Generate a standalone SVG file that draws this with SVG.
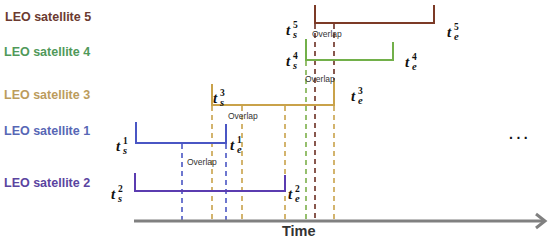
<svg xmlns="http://www.w3.org/2000/svg" width="550" height="242" viewBox="0 0 550 242">
<style>
.lbl{font-family:"Liberation Sans",Arial,sans-serif;font-size:12.5px;font-weight:bold}
.t{font-family:"Liberation Serif","Times New Roman",serif;font-weight:bold;font-style:italic;font-size:15px;fill:#111}
.sup{font-family:"Liberation Serif","Times New Roman",serif;font-weight:bold;font-size:9.5px;fill:#111}
.sub{font-family:"Liberation Serif","Times New Roman",serif;font-weight:bold;font-style:italic;font-size:10.5px;fill:#111}
.ov{font-family:"Liberation Sans",Arial,sans-serif;font-size:8.5px;fill:#333}
.bar{fill:none;stroke-width:2}
.dash{fill:none;stroke-width:1.6;stroke-dasharray:5 4}
</style>
<rect width="550" height="242" fill="#fff"/>
<g id="labels">
<text class="lbl" x="5" y="21" fill="#6b3a30">LEO  satellite 5</text>
<text class="lbl" x="4" y="55.5" fill="#50995a">LEO  satellite 4</text>
<text class="lbl" x="4" y="99" fill="#bc9c5c">LEO  satellite 3</text>
<text class="lbl" x="4" y="135" fill="#5767b5">LEO  satellite 1</text>
<text class="lbl" x="4" y="187" fill="#5a44a0">LEO  satellite 2</text>
</g>
<g id="connectors">
<path class="dash" stroke="#4a56c4" d="M182 144V221M226 144V221"/>
<path class="dash" stroke="#c9a24a" d="M212 106V221M242 106V221M285 106V221M334 106V221"/>
<path class="dash" stroke="#7cb04a" d="M306 61V221"/>
<path class="dash" stroke="#6b2f22" d="M315 24V221M334 24V104"/>
</g>
<g id="sat5">
<path class="bar" stroke="#7c3a26" d="M315 5V23H434V5"/>
</g>
<g id="sat4">
<path class="bar" stroke="#72b04a" d="M306 39V60H393V42"/>
</g>
<g id="sat3">
<path class="bar" stroke="#c9a24a" d="M212 84V105H334V80"/>
</g>
<g id="sat1">
<path class="bar" stroke="#4a56c4" d="M136 122V143H226V124"/>
</g>
<g id="sat2">
<path class="bar" stroke="#5b3cb0" d="M135 173V191H285V175"/>
</g>
<g id="timeaxis">
<path d="M134 221H544" stroke="#808080" stroke-width="3" fill="none"/>
<path d="M536 214L545 221L536 228" stroke="#808080" stroke-width="3" fill="none"/>
<text x="282" y="236" font-family="Liberation Sans,Arial,sans-serif" font-size="14.5" font-weight="600" fill="#333">Time</text>
</g>
<g id="overlaps">
<text class="ov" x="312" y="37">Overlap</text>
<text class="ov" x="305" y="82">Overlap</text>
<text class="ov" x="228" y="119">Overlap</text>
<text class="ov" x="187" y="165">Overlap</text>
</g>
<g id="times">
<text class="t" x="286" y="35">t</text><text class="sup" x="293" y="28">5</text><text class="sub" x="293" y="38">s</text>
<text class="t" x="447" y="37">t</text><text class="sup" x="454" y="30">5</text><text class="sub" x="454" y="40">e</text>
<text class="t" x="286" y="66">t</text><text class="sup" x="293" y="59">4</text><text class="sub" x="293" y="69">s</text>
<text class="t" x="405" y="67">t</text><text class="sup" x="412" y="60">4</text><text class="sub" x="412" y="70">e</text>
<text class="t" x="213" y="103">t</text><text class="sup" x="220" y="96">3</text><text class="sub" x="220" y="106">s</text>
<text class="t" x="351" y="101">t</text><text class="sup" x="358" y="94">3</text><text class="sub" x="358" y="104">e</text>
<text class="t" x="116" y="151">t</text><text class="sup" x="123" y="144">1</text><text class="sub" x="123" y="154">s</text>
<text class="t" x="230" y="150">t</text><text class="sup" x="237" y="143">1</text><text class="sub" x="237" y="153">e</text>
<text class="t" x="111" y="199">t</text><text class="sup" x="118" y="192">2</text><text class="sub" x="118" y="202">s</text>
<text class="t" x="288" y="199">t</text><text class="sup" x="295" y="192">2</text><text class="sub" x="295" y="202">e</text>
</g>
<text x="509" y="139" font-family="Liberation Sans,Arial,sans-serif" font-size="14" font-weight="bold" letter-spacing="3.5" fill="#111">...</text>
</svg>
